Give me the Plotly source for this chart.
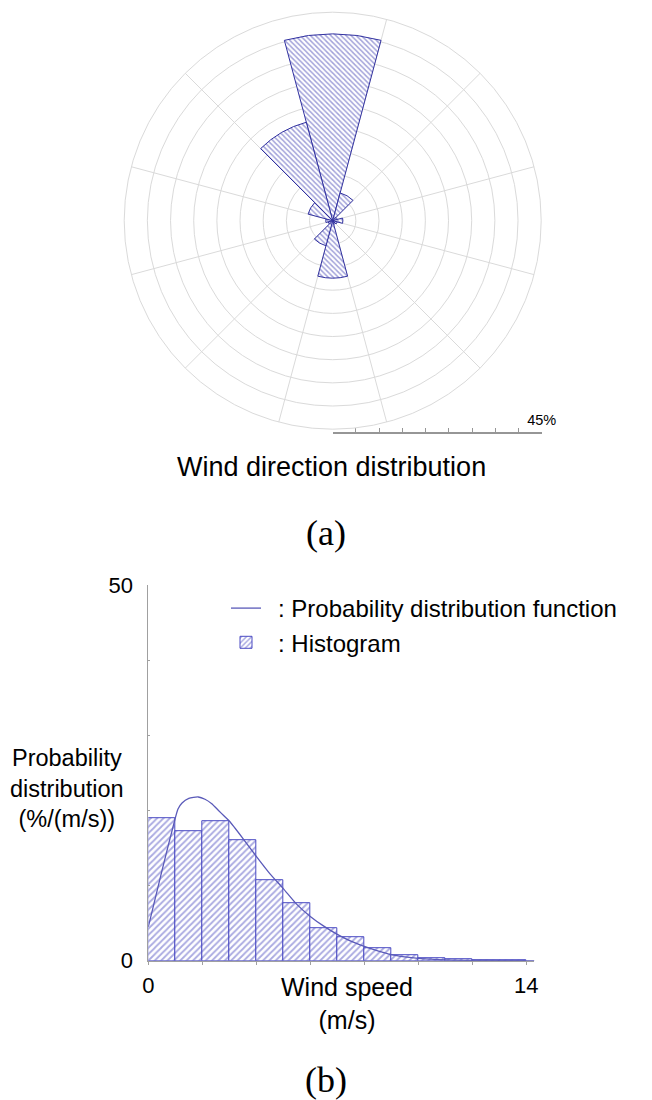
import plotly.graph_objects as go

# ---------------- data ----------------
# (a) wind rose: 12 direction sectors (deg, clockwise from north) and frequency (%)
dir_deg = [0, 30, 60, 90, 120, 150, 180, 210, 240, 270, 300, 330]
dir_pct = [40.3, 6.2, 1.0, 2.2, 1.0, 0.8, 12.4, 5.6, 1.0, 1.5, 5.5, 22.0]
rose_scale_ticks = [0, 5, 10, 15, 20, 25, 30, 35, 40, 45]
rose_scale_text = ["", "", "", "", "", "", "", "", "", "45%"]

# (b) wind speed histogram (1 m/s bins) and fitted probability distribution
speed_bin = [0.5, 1.5, 2.5, 3.5, 4.5, 5.5, 6.5, 7.5, 8.5, 9.5, 10.5, 11.5, 12.5, 13.5]
hist_pct = [19.0, 17.3, 18.6, 16.1, 10.7, 7.7, 4.3, 3.1, 1.7, 0.7, 0.35, 0.15, 0.1, 0.05]
pdf_x = [0, 0.5, 1.0, 1.1, 1.25, 1.5, 1.85, 2.1, 2.35, 2.6, 2.8, 3.0, 3.5, 4.0, 4.5,
         5.0, 5.5, 6.0, 6.5, 7.0, 7.5, 8.0, 8.5, 9.0, 9.5, 10, 11, 12, 13, 14.3]
pdf_y = [4.5, 11.9, 19.0, 20.2, 21.0, 21.6, 21.8, 21.5, 20.9, 20.0, 19.3, 18.6, 16.3, 13.9, 11.6,
         9.6, 7.5, 5.9, 4.6, 3.5, 2.6, 1.9, 1.3, 0.8, 0.5, 0.3, 0.1, 0.05, 0.02, 0.0]
y_ticks = [0, 10, 20, 30, 40, 50]
y_ticktext = ["0", "", "", "", "", "50"]
x_ticks = [0, 14]
x_ticktext = ["0", "14"]

W, H = 652, 1100
OFF = 8  # the page body margin offsets the figure by 8 px in the window


def px(x):
    return (x - OFF) / W


def py(y):
    return 1 - (y - OFF) / H


SANS = "Liberation Sans, Arial, sans-serif"
SERIF = "Liberation Serif, Times New Roman, serif"
GRID = "rgb(218,218,218)"
AXIS = "rgb(160,160,160)"

fig = go.Figure()

# ---- wind rose ----
fig.add_trace(go.Barpolar(
    r=dir_pct, theta=dir_deg, width=[30] * len(dir_deg),
    marker=dict(color="white",
                line=dict(color="rgb(50,50,160)", width=1),
                pattern=dict(shape="\\", fgcolor="rgb(70,70,180)", bgcolor="white",
                             size=3.6, solidity=0.42)),
    showlegend=False, subplot="polar", hoverinfo="skip"))

# ---- histogram ----
fig.add_trace(go.Bar(
    x=speed_bin, y=hist_pct, width=1,
    marker=dict(color="white",
                line=dict(color="rgb(75,75,195)", width=1),
                pattern=dict(shape="/", fgcolor="rgb(85,85,195)", bgcolor="white",
                             size=4.5, solidity=0.4)),
    name="\u2002: Histogram", xaxis="x", yaxis="y"))
fig.add_trace(go.Scatter(
    x=pdf_x, y=pdf_y, mode="lines",
    line=dict(color="rgb(90,90,185)", width=1.3, shape="spline", smoothing=0.6),
    name="\u2002: Probability distribution function", xaxis="x", yaxis="y"))

# ---- scale bar for the rose (its own axis) ----
fig.add_trace(go.Scatter(x=[0, 45], y=[0, 0], mode="markers", marker=dict(opacity=0),
                         showlegend=False, xaxis="x2", yaxis="y2", hoverinfo="skip"))

fig.update_layout(
    width=W, height=H, margin=dict(l=0, r=0, t=0, b=0, pad=0, autoexpand=False),
    paper_bgcolor="white", plot_bgcolor="rgba(0,0,0,0)",
    font=dict(family=SANS, color="black"),
    polar=dict(
        domain=dict(x=[px(124.2), px(541.2)], y=[py(429.2), py(12.2)]),
        bgcolor="white",
        radialaxis=dict(range=[0, 45], dtick=5, showticklabels=False, ticks="",
                        showline=False, gridcolor=GRID, gridwidth=1),
        angularaxis=dict(direction="clockwise", rotation=90, tickmode="linear",
                         tick0=15, dtick=30, showticklabels=False, ticks="",
                         gridcolor=GRID, linecolor=GRID, linewidth=1),
    ),
    bargap=0,
    xaxis=dict(domain=[px(148.3), px(534.4)], range=[0, 14.3], anchor="y", automargin=False,
               showgrid=False, zeroline=False, showline=True, linecolor=AXIS, linewidth=1,
               tickvals=x_ticks, ticktext=x_ticktext, ticks="outside", ticklen=3, tickcolor=AXIS,
               minor=dict(dtick=2, ticks="outside", ticklen=3, tickcolor=AXIS),
               tickfont=dict(size=22), ticklabelstandoff=2),
    yaxis=dict(domain=[py(960.7), py(585.2)], range=[0, 50], anchor="x", automargin=False,
               showgrid=False, zeroline=False, showline=True, linecolor=AXIS, linewidth=1,
               tickvals=y_ticks, ticktext=y_ticktext, ticks="inside", ticklen=2, tickcolor=AXIS,
               tickfont=dict(size=22), ticklabelstandoff=10),
    xaxis2=dict(domain=[px(332.7), px(541.7)], range=[0, 45], anchor="y2", automargin=False,
                showgrid=False, zeroline=False, showline=True, linecolor="rgb(150,150,150)",
                linewidth=1.5, tickvals=rose_scale_ticks, ticktext=rose_scale_text,
                ticks="inside", ticklen=4, tickcolor="rgb(150,150,150)",
                ticklabelposition="inside", ticklabeloverflow="allow", ticklabelstandoff=0,
                tickfont=dict(size=14.5, color="black")),
    yaxis2=dict(domain=[py(432), py(425)], range=[0, 1], visible=False, anchor="x2", automargin=False),
    legend=dict(x=px(226), y=py(586), xanchor="left", yanchor="top",
                traceorder="reversed", bgcolor="rgba(0,0,0,0)",
                font=dict(size=24, family=SANS), itemwidth=30, tracegroupgap=0),
    annotations=[
        dict(text="Wind direction distribution", x=px(331), y=py(467), xref="paper", yref="paper",
             xanchor="center", yanchor="middle", showarrow=False, font=dict(size=27, family=SANS)),
        dict(text="(a)", x=px(326), y=py(533), xref="paper", yref="paper",
             xanchor="center", yanchor="middle", showarrow=False, font=dict(size=36, family=SERIF)),
        dict(text="Probability<br>distribution<br>(%/(m/s))", x=px(67), y=py(788),
             xref="paper", yref="paper", xanchor="center", yanchor="middle", showarrow=False,
             font=dict(size=23.5, family=SANS)),
        dict(text="Wind speed<br>(m/s)", x=px(346.7), y=py(1004), xref="paper", yref="paper",
             xanchor="center", yanchor="middle", showarrow=False, font=dict(size=25, family=SANS)),
        dict(text="(b)", x=px(326), y=py(1080), xref="paper", yref="paper",
             xanchor="center", yanchor="middle", showarrow=False, font=dict(size=36, family=SERIF)),
    ],
)

fig.write_html("out.html")
